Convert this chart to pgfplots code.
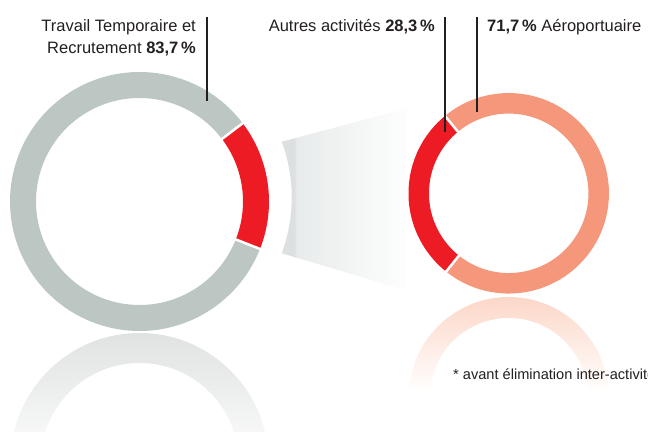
\documentclass[border=0pt]{standalone}
\usepackage{pgfplots}
\pgfplotsset{compat=1.18}
\usepackage{pgfplotstable}
\usepackage{fontspec}
\setmainfont{Liberation Sans}
\definecolor{ringgray}{HTML}{BCC6C3}
\definecolor{ringred}{HTML}{ED1C24}
\definecolor{salmon}{HTML}{F5977A}
\definecolor{reflgray}{HTML}{E0E3E2}
\definecolor{reflsalmon}{HTML}{FCD7C8}
\definecolor{fA}{HTML}{DCE0E0}
\definecolor{fB}{HTML}{E8EBEB}
\definecolor{txt}{HTML}{231F20}
\pgfdeclarehorizontalshading{funnel}{100bp}{color(0bp)=(fA); color(30bp)=(fA); color(31bp)=(fB); color(78bp)=(white); color(100bp)=(white)}

\pgfplotstableread{
label value
Travail 83.7
Autres 16.3
}\leftdata
\pgfplotstableread{
label value
Autres 28.3
Aero 71.7
}\rightdata

\begin{document}
\begin{tikzpicture}
\pgfplotstablegetelem{0}{value}\of\leftdata \let\Lgray\pgfplotsretval
\pgfplotstablegetelem{1}{value}\of\leftdata \let\Lred\pgfplotsretval
\pgfplotstablegetelem{0}{value}\of\rightdata \let\Rred\pgfplotsretval
\pgfplotstablegetelem{1}{value}\of\rightdata \let\Rsal\pgfplotsretval
\pgfmathsetmacro\LredStart{-21.5}
\pgfmathsetmacro\LredEnd{\LredStart+3.6*\Lred}
\pgfmathsetmacro\LgrayEnd{\LredEnd+3.6*\Lgray}
\pgfmathsetmacro\RredStart{129.5}
\pgfmathsetmacro\RredEnd{\RredStart+3.6*\Rred}
\pgfmathsetmacro\RsalEnd{\RredEnd+3.6*\Rsal}
\begin{axis}[width=648bp,height=432bp,scale only axis,
  xmin=0,xmax=648,ymin=0,ymax=432,hide axis,clip=false]
% funnel
\shade[shading=funnel] (axis cs:407,323.7) -- ([shift={(20.3:160.7bp)}]axis cs:131,234.5)
   arc[start angle=20.3,end angle=-20.3,radius=160.7bp] -- (axis cs:405,142) -- cycle;
% reflections
\begin{scope}
\clip (axis cs:0,0) rectangle (axis cs:648,432);
\begin{scope}
\clip ([shift={(0:129bp)}]axis cs:139.5,-30) arc[start angle=0,end angle=360,radius=129bp]
  -- ([shift={(360:99bp)}]axis cs:139.5,-30) arc[start angle=360,end angle=0,radius=99bp] -- cycle;
\shade[top color=reflgray, bottom color=white] (axis cs:0,99) rectangle (axis cs:290,-40);
\end{scope}
\begin{scope}
\clip ([shift={(0:100bp)}]axis cs:508.7,35) arc[start angle=0,end angle=360,radius=100bp]
  -- ([shift={(360:79bp)}]axis cs:508.7,35) arc[start angle=360,end angle=0,radius=79bp] -- cycle;
\shade[top color=reflsalmon, bottom color=white] (axis cs:400,135) rectangle (axis cs:620,40);
\end{scope}
\end{scope}
% left donut
\draw[ringred, line width=26bp] ([shift={(\LredStart:116.5bp)}]axis cs:139.5,230.5)
  arc[start angle=\LredStart,end angle=\LredEnd,radius=116.5bp];
\draw[ringgray, line width=26bp] ([shift={(\LredEnd:116.5bp)}]axis cs:139.5,230.5)
  arc[start angle=\LredEnd,end angle=\LgrayEnd,radius=116.5bp];
\draw[white, line width=2.5bp] ([shift={(\LredStart:100bp)}]axis cs:139.5,230.5) -- ([shift={(\LredStart:133bp)}]axis cs:139.5,230.5);
\draw[white, line width=2.5bp] ([shift={(\LredEnd:100bp)}]axis cs:139.5,230.5) -- ([shift={(\LredEnd:133bp)}]axis cs:139.5,230.5);
% right donut
\draw[ringred, line width=20.5bp] ([shift={(\RredStart:90bp)}]axis cs:508.7,238.7)
  arc[start angle=\RredStart,end angle=\RredEnd,radius=90bp];
\draw[salmon, line width=20.5bp] ([shift={(\RredEnd:90bp)}]axis cs:508.7,238.7)
  arc[start angle=\RredEnd,end angle=\RsalEnd,radius=90bp];
\draw[white, line width=2.5bp] ([shift={(\RredStart:76bp)}]axis cs:508.7,238.7) -- ([shift={(\RredStart:104bp)}]axis cs:508.7,238.7);
\draw[white, line width=2.5bp] ([shift={(\RredEnd:76bp)}]axis cs:508.7,238.7) -- ([shift={(\RredEnd:104bp)}]axis cs:508.7,238.7);
% leader lines
\draw[txt, line width=1.4bp] (axis cs:207,415) -- (axis cs:207,331);
\draw[txt, line width=1.4bp] (axis cs:445,415) -- (axis cs:445,300);
\draw[txt, line width=1.4bp] (axis cs:477,415) -- (axis cs:477,320);
% labels
\node[anchor=base east, inner sep=0pt, text=txt, font=\fontsize{16.5bp}{22bp}\selectfont] at (axis cs:196,400) {Travail Temporaire et};
\node[anchor=base east, inner sep=0pt, text=txt, font=\fontsize{16.5bp}{22bp}\selectfont] at (axis cs:196,378) {Recrutement \textbf{83,7\,\%}};
\node[anchor=base east, inner sep=0pt, text=txt, font=\fontsize{16.5bp}{22bp}\selectfont] at (axis cs:435,400) {Autres activités \textbf{28,3\,\%}};
\node[anchor=base west, inner sep=0pt, text=txt, font=\fontsize{16.5bp}{22bp}\selectfont] at (axis cs:487,400) {\textbf{71,7\,\%} Aéroportuaire};
\begin{scope}
\clip (axis cs:0,0) rectangle (axis cs:648,432);
\node[anchor=base west, inner sep=0pt, text=txt, font=\fontsize{14.6bp}{18bp}\selectfont] at (axis cs:453,52) {* avant élimination inter-activités};
\end{scope}
\end{axis}
\pgfresetboundingbox
\path (0,0) rectangle (648bp,432bp);
\end{tikzpicture}
\end{document}
